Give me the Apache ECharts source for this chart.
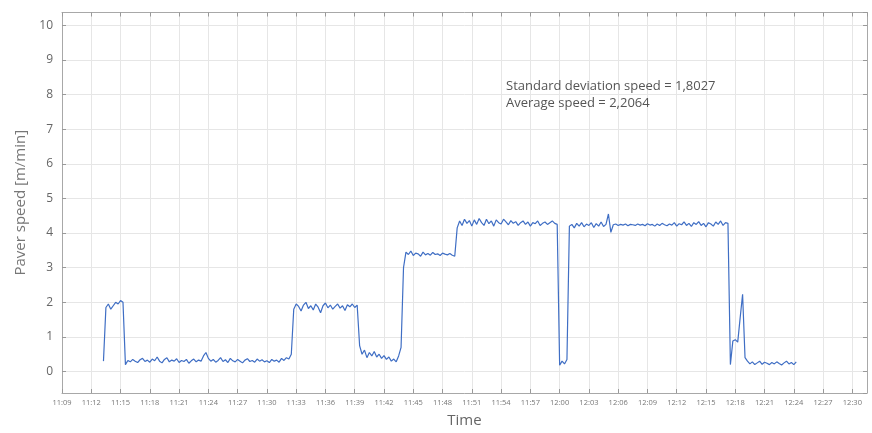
<!DOCTYPE html>
<html>
<head>
<meta charset="utf-8">
<script src="https://cdn.jsdelivr.net/npm/echarts@6/dist/echarts.min.js"></script>
<style>
	html, body { margin: 0; padding: 0; background: #ffffff; }
	#paver_speed { width: 872px; height: 433px; }
</style>
</head>
<body>
<div id="paver_speed"></div>
<script>
	// sampling: first sample at 11:13:15, one sample every 15 s (minutes of the day)
	var sampleStart = 673.25
	var sampleStep = 0.25

	// speed runs [m/min] in time order
	var startRun = [0.3]
	var highRun1 = [1.85, 1.95, 1.8, 1.9, 2.0, 1.95, 2.05, 2.0]
	var lowRun1 = [0.2, 0.32, 0.28, 0.35, 0.3, 0.26, 0.34, 0.38, 0.29, 0.33, 0.27, 0.36, 0.31, 0.42, 0.3, 0.25, 0.35, 0.4, 0.28, 0.33,
		0.3, 0.37, 0.26, 0.32, 0.29, 0.35, 0.24, 0.31, 0.36, 0.28, 0.33, 0.3, 0.45, 0.55, 0.38, 0.3, 0.35, 0.27, 0.32, 0.4,
		0.29, 0.34, 0.26, 0.38, 0.31, 0.28, 0.35, 0.3, 0.25, 0.33, 0.37, 0.29, 0.32, 0.27, 0.36, 0.3, 0.34, 0.28, 0.31, 0.26,
		0.35, 0.3, 0.33, 0.27, 0.38, 0.32, 0.4, 0.36, 0.5]
	var highRun2 = [1.8, 1.95, 1.88, 1.75, 1.92, 2.0, 1.82, 1.9, 1.78, 1.95, 1.86, 1.7, 1.9, 1.98, 1.84, 1.92, 1.8, 1.88, 1.95, 1.83,
		1.9, 1.76, 1.93, 1.87, 1.95, 1.85, 1.92]
	var lowRun2 = [0.75, 0.5, 0.62, 0.4, 0.55, 0.45, 0.58, 0.42, 0.5, 0.38, 0.46, 0.35, 0.42, 0.3, 0.36, 0.28, 0.45, 0.7]
	var midRun = [3.0, 3.45, 3.38, 3.48, 3.35, 3.42, 3.4, 3.33, 3.45, 3.37, 3.41, 3.36, 3.44, 3.38, 3.4, 3.35, 3.42, 3.39, 3.37, 3.41,
		3.36, 3.33]
	var topRun1 = [4.15, 4.35, 4.22, 4.4, 4.28, 4.36, 4.2, 4.38, 4.25, 4.42, 4.3, 4.22, 4.4, 4.27, 4.35, 4.2, 4.38, 4.3, 4.26, 4.4,
		4.32, 4.24, 4.36, 4.28, 4.33, 4.22, 4.3, 4.35, 4.25, 4.32, 4.2, 4.3, 4.27, 4.35, 4.22, 4.28, 4.32, 4.25, 4.3, 4.35,
		4.28, 4.25]
	var dipRun = [0.18, 0.3, 0.22, 0.35]
	var topRun2 = [4.2, 4.25, 4.15, 4.28, 4.2, 4.3, 4.18, 4.26, 4.22, 4.3, 4.16, 4.27, 4.2, 4.32, 4.19, 4.25, 4.55, 4.02, 4.24, 4.26,
		4.22, 4.25, 4.23, 4.26, 4.21, 4.25, 4.24, 4.22, 4.26, 4.23, 4.25, 4.21, 4.27, 4.23, 4.25, 4.2, 4.26, 4.22, 4.28, 4.24,
		4.21, 4.26, 4.23, 4.3, 4.2, 4.27, 4.24, 4.32, 4.22, 4.28, 4.19, 4.3, 4.25, 4.33, 4.22, 4.28, 4.18, 4.3, 4.26, 4.2,
		4.32, 4.25, 4.35, 4.22, 4.3, 4.28]
	var tailRun = [0.2, 0.88, 0.92, 0.85, 1.55, 2.23, 0.4, 0.3, 0.22, 0.28, 0.2, 0.25, 0.3, 0.21, 0.27, 0.24, 0.2, 0.26, 0.22, 0.28,
		0.23, 0.19, 0.25, 0.3, 0.22, 0.26, 0.2, 0.28]

	// axis ranges
	var timeMin = 669      // 11:09
	var timeMax = 751.5
	var timeStep = 3
	var speedMin = -0.62
	var speedMax = 10.37

	var noteLines = ['Standard deviation speed = 1,8027', 'Average speed = 2,2064']

	var speeds = [].concat(startRun, highRun1, lowRun1, highRun2, lowRun2, midRun, topRun1, dipRun, topRun2, tailRun)
	var speedData = speeds.map(function (v, i) {
		return [sampleStart + i * sampleStep, v]
	})

	function clock(m) {
		var h = Math.floor(m / 60)
		var mm = Math.round(m - h * 60)
		return h + ':' + (mm < 10 ? '0' + mm : mm)
	}

	var fontName = '"Open Sans", sans-serif'
	var gridColor = '#e6e6e6'
	var boxColor = '#a8a8a8'

	function timeAxis(pos, labels) {
		return {
			type: 'value',
			position: pos,
			min: timeMin,
			max: timeMax,
			interval: timeStep,
			name: labels ? 'Time' : '',
			nameLocation: 'middle',
			nameGap: 20,
			nameTextStyle: { color: '#666', fontSize: 15, fontFamily: fontName },
			axisLine: { show: true, onZero: false, lineStyle: { color: boxColor, width: 1 } },
			axisTick: { show: true, inside: true, length: 4, lineStyle: { color: '#999' } },
			axisLabel: {
				show: labels,
				showMaxLabel: false,
				margin: 6,
				fontSize: 7.5,
				color: '#777',
				fontFamily: fontName,
				formatter: clock
			},
			splitLine: { show: labels, lineStyle: { color: gridColor, width: 1 } }
		}
	}

	function speedAxis(pos, labels) {
		return {
			type: 'value',
			position: pos,
			min: speedMin,
			max: speedMax,
			splitNumber: 10,
			name: labels ? 'Paver speed [m/min]' : '',
			nameLocation: 'middle',
			nameGap: 30,
			nameTextStyle: { color: '#777', fontSize: 15, fontFamily: fontName },
			axisLine: { show: true, onZero: false, lineStyle: { color: boxColor, width: 1 } },
			axisTick: { show: true, inside: true, length: 4, lineStyle: { color: '#999' } },
			axisLabel: {
				show: labels,
				showMinLabel: false,
				showMaxLabel: false,
				margin: 9,
				fontSize: 12,
				color: '#666',
				fontFamily: fontName
			},
			splitLine: { show: labels, lineStyle: { color: gridColor, width: 1 } }
		}
	}

	var chart = echarts.init(document.getElementById('paver_speed'), null, { renderer: 'canvas' })
	var option = {
		animation: false,
		backgroundColor: '#ffffff',
		grid: { left: 62, right: 5, top: 12.5, bottom: 39, containLabel: false },
		xAxis: [timeAxis('bottom', true), timeAxis('top', false)],
		yAxis: [speedAxis('left', true), speedAxis('right', false)],
		graphic: [{
			type: 'text',
			left: 506,
			top: 78,
			z: 100,
			style: {
				text: noteLines.join('\n'),
				font: '13px ' + fontName,
				lineHeight: 17,
				fill: '#555'
			}
		}],
		series: [{
			type: 'line',
			xAxisIndex: 0,
			yAxisIndex: 0,
			data: speedData,
			showSymbol: false,
			symbol: 'none',
			lineStyle: { color: '#3f6ec4', width: 1.2 }
		}]
	}
	chart.setOption(option)
</script>
</body>
</html>
